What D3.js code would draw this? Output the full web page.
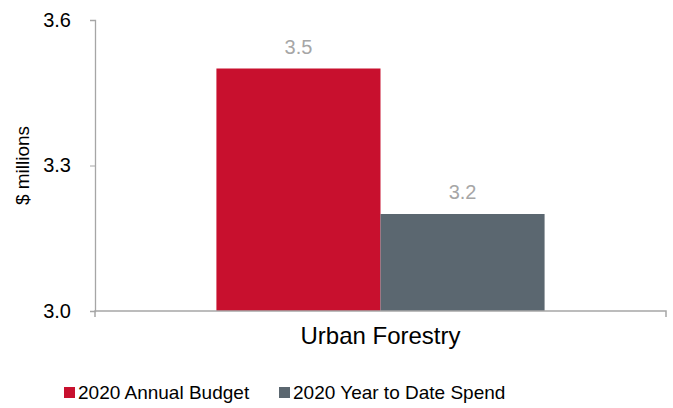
<!DOCTYPE html>
<html><head><meta charset="utf-8">
<script src="https://cdn.jsdelivr.net/npm/d3@7"></script>
<style>body{margin:0;background:#fff}text{font-family:"Liberation Sans",Arial,sans-serif}</style>
</head><body>
<svg id="c" width="673" height="408"></svg>
<script>
const categories = ["Urban Forestry"];
const seriesNames = ["2020 Annual Budget", "2020 Year to Date Spend"];
const budget = [3.5];
const spend = [3.2];
const yTicks = [3.0, 3.3, 3.6];
const colors = ["#c8102e", "#5b6770"];

const svg = d3.select("#c");
const m = {l: 95, r: 666, t: 20, b: 311};
const x = d3.scaleBand().domain(categories).range([m.l, m.r]).paddingInner(0).paddingOuter(0.37);
const xs = d3.scaleBand().domain(seriesNames).range([0, x.bandwidth()]);
const y = d3.scaleLinear().domain([3.0, 3.6]).range([m.b, m.t]);

const series = [budget, spend];
categories.forEach((c, ci) => {
  series.forEach((s, si) => {
    svg.append("rect")
      .attr("x", x(c) + xs(seriesNames[si]))
      .attr("y", y(s[ci]))
      .attr("width", xs.bandwidth())
      .attr("height", y(3.0) - y(s[ci]))
      .attr("fill", colors[si]);
    svg.append("text")
      .attr("x", x(c) + xs(seriesNames[si]) + xs.bandwidth() / 2)
      .attr("y", y(s[ci]) - 15)
      .attr("text-anchor", "middle")
      .style("font-size", "20px")
      .attr("fill", "#a6a6a6")
      .text(d3.format(".1f")(s[ci]));
  });
});

// y axis
const ya = svg.append("g").attr("transform", `translate(${m.l},0)`)
  .call(d3.axisLeft(y).tickValues(yTicks).tickFormat(d3.format(".1f")).tickSize(5).tickPadding(19));
ya.select(".domain").attr("stroke", "#a6a6a6").attr("stroke-width", 1.3);
ya.selectAll(".tick line").attr("stroke", "#a6a6a6");
ya.selectAll(".tick text").style("font-size", "20px").attr("fill", "#000");

// x axis
const xa = svg.append("g").attr("transform", `translate(0,${m.b})`)
  .call(d3.axisBottom(x).tickSize(0).tickPadding(16));
xa.select(".domain").attr("stroke", "#a6a6a6").attr("stroke-width", 1.5).attr("d", `M${m.l},6V0H${m.r}V6`);
xa.selectAll(".tick text").style("font-size", "24px").attr("fill", "#000");

// y title
svg.append("text")
  .attr("transform", `translate(29,${(m.t + m.b) / 2}) rotate(-90)`)
  .attr("text-anchor", "middle")
  .style("font-size", "19px")
  .attr("fill", "#000")
  .text("$ millions");

// legend
const legX = [64, 279];
seriesNames.forEach((n, i) => {
  svg.append("rect").attr("x", legX[i]).attr("y", 387).attr("width", 11).attr("height", 11).attr("fill", colors[i]);
  svg.append("text").attr("x", legX[i] + 14).attr("y", 399).style("font-size", "19px").attr("fill", "#000").text(n);
});
</script>
</body></html>
